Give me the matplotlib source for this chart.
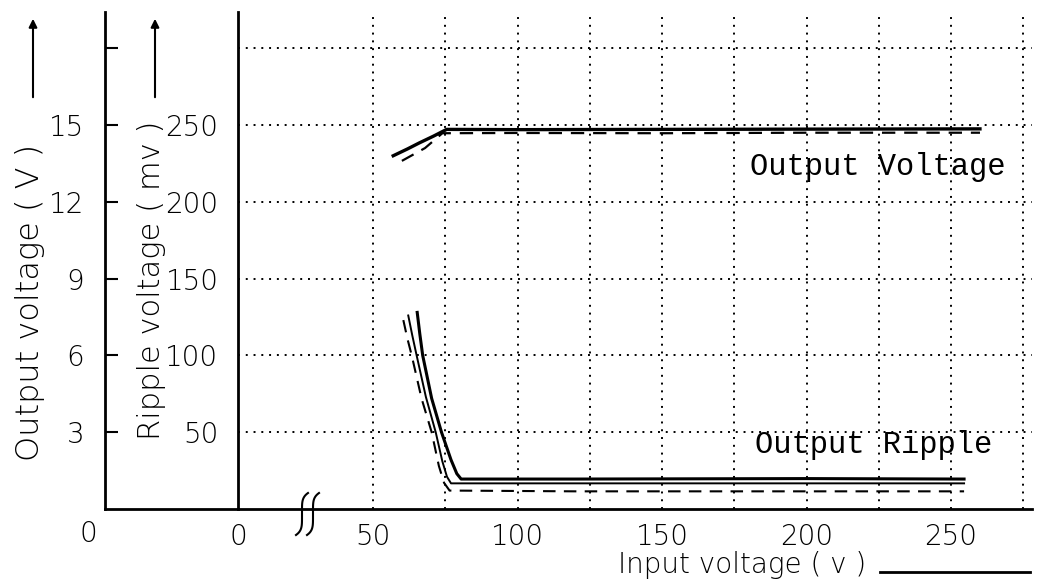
#!/usr/bin/env python3
# -*- coding: utf-8 -*-
"""
Output voltage and ripple of the regulator versus input voltage
"""
#%% Import packages
import numpy as np
import matplotlib
matplotlib.use('Agg')
import matplotlib.pyplot as plt

#%% Data
# output voltage (V) vs input voltage (V)
vout_in_solid = [57, 62, 66, 71, 75.5, 100, 150, 200, 260]
vout_solid = [13.8, 14.07, 14.3, 14.57, 14.83, 14.82, 14.83, 14.84, 14.85]
vout_in_dash = [60, 64, 68, 74, 100, 150, 200, 260]
vout_dash = [13.6, 13.85, 14.1, 14.68, 14.69, 14.68, 14.7, 14.7]

# output ripple (mV) vs input voltage (V)
rip_in_1 = [65.3, 66.2, 67.2, 70.3, 73.7, 77.0, 79.0, 80.5, 120, 200, 254.5]
rip_1 = [128, 114, 100, 72, 50, 32, 23, 19.5, 19.5, 19.8, 19.5]
rip_in_2 = [62.2, 63.6, 65.1, 68.3, 71.7, 74.0, 75.6, 77.0, 120, 200, 254.5]
rip_2 = [126, 113, 100, 73, 50, 31, 21, 16.7, 16.7, 16.7, 16.7]
rip_in_3 = [60.5, 61.9, 63.4, 66.8, 70.3, 72.8, 74.6, 76.5, 120, 200, 254.5]
rip_3 = [123, 111, 100, 72, 50, 28, 17, 12.0, 11.5, 11.5, 11.5]

x_ticks = [50, 100, 150, 200, 250]
x_minor = [75, 125, 175, 225, 275]
rip_ticks = [50, 100, 150, 200, 250, 300]
rip_labels = ['50', '100', '150', '200', '250', '']
v_ticks = [3, 6, 9, 12, 15, 18]
v_labels = ['3', '6', '9', '12', '15', '']

v_per_mv = 15 / 250.0   # 15 V sits level with 250 mV
x_lo, x_hi = 3.3, 278
y_hi = 323.6

#%% Figure
plt.rcParams['font.family'] = ['DejaVu Sans']
plt.rcParams['font.weight'] = 'light'
W, H = 1037, 585
fig = plt.figure(figsize=(W / 100, H / 100), dpi=100)

def fx(px):
    return np.asarray(px) / W

def fy(py):
    return 1 - np.asarray(py) / H

ax = fig.add_axes([fx(238), fy(509), (1032 - 238) / W, (509 - 12) / H])
axv = fig.add_axes([fx(105), fy(509), (238 - 105) / W, (509 - 12) / H])

# main axes
dot = (0, (1, 3))
ax.set_xlim(x_lo, x_hi)
ax.set_ylim(0, y_hi)
ax.set_xticks([x_lo] + x_ticks)
ax.set_xticklabels(['0'] + [str(t) for t in x_ticks])
ax.set_xticks(x_minor, minor=True)
ax.set_yticks(rip_ticks)
ax.set_yticklabels(rip_labels)
ax.tick_params(axis='both', which='both', length=0, labelsize=20)
ax.tick_params(axis='x', pad=10)
ax.tick_params(axis='y', pad=14)
ax.grid(True, which='both', color='black', linestyle=dot, linewidth=1.4)
for s in ['top', 'right']:
    ax.spines[s].set_visible(False)
for s in ['left', 'bottom']:
    ax.spines[s].set_linewidth(2)

# output voltage curves (converted to the ripple scale)
ax.plot(vout_in_solid, np.array(vout_solid) / v_per_mv, color='black', lw=2.4)
ax.plot(vout_in_dash, np.array(vout_dash) / v_per_mv, color='black', lw=1.6,
        linestyle=(0, (6, 4)))

# ripple curves
ax.plot(rip_in_1, rip_1, color='black', lw=2.2)
ax.plot(rip_in_2, rip_2, color='black', lw=1.4)
ax.plot(rip_in_3, rip_3, color='black', lw=1.5, linestyle=(0, (6, 4)))

fig.text(fx(1005), fy(167), 'Output Voltage', ha='right', va='center',
         family='Liberation Mono', fontsize=22, weight='normal')
fig.text(fx(992), fy(445), 'Output Ripple', ha='right', va='center',
         family='Liberation Mono', fontsize=22, weight='normal')

# axis break marks
u = np.linspace(-1, 1, 40)
for x0 in [302, 313]:
    xs = x0 - 6 * u ** 5
    ys = 514 + 21 * u
    fig.add_artist(plt.Line2D(fx(xs), fy(ys), color='black', lw=1.5))

# voltage axis
axv.set_xlim(0, 1)
axv.set_ylim(0, y_hi * v_per_mv)
axv.set_xticks([])
axv.set_yticks(v_ticks)
axv.set_yticklabels(v_labels)
axv.tick_params(axis='y', direction='in', length=9, width=1.5, labelsize=20, pad=15)
for s in ['top', 'right']:
    axv.spines[s].set_visible(False)
for s in ['left', 'bottom']:
    axv.spines[s].set_linewidth(2)
axv.patch.set_alpha(0)

fig.text(fx(88), fy(534), '0', ha='center', va='center', fontsize=20)

# axis titles
fig.text(fx(30), fy(302), 'Output voltage ( V )', rotation=90, ha='center',
         va='center', fontsize=23)
fig.text(fx(151), fy(280), 'Ripple voltage ( mv )', rotation=90, ha='center',
         va='center', fontsize=22)
fig.text(fx(742), fy(565), 'Input voltage ( v )', ha='center', va='center',
         fontsize=20)

for xa in [33, 155]:
    fig.add_artist(matplotlib.patches.FancyArrowPatch(
        (fx(xa), fy(100)), (fx(xa), fy(16)), transform=fig.transFigure,
        arrowstyle='-|>', mutation_scale=12, color='black', lw=1.5))
fig.add_artist(plt.Line2D([fx(880), fx(1030)], [fy(572), fy(572)],
                          color='black', lw=2))

fig.savefig('out.png', dpi=100)
